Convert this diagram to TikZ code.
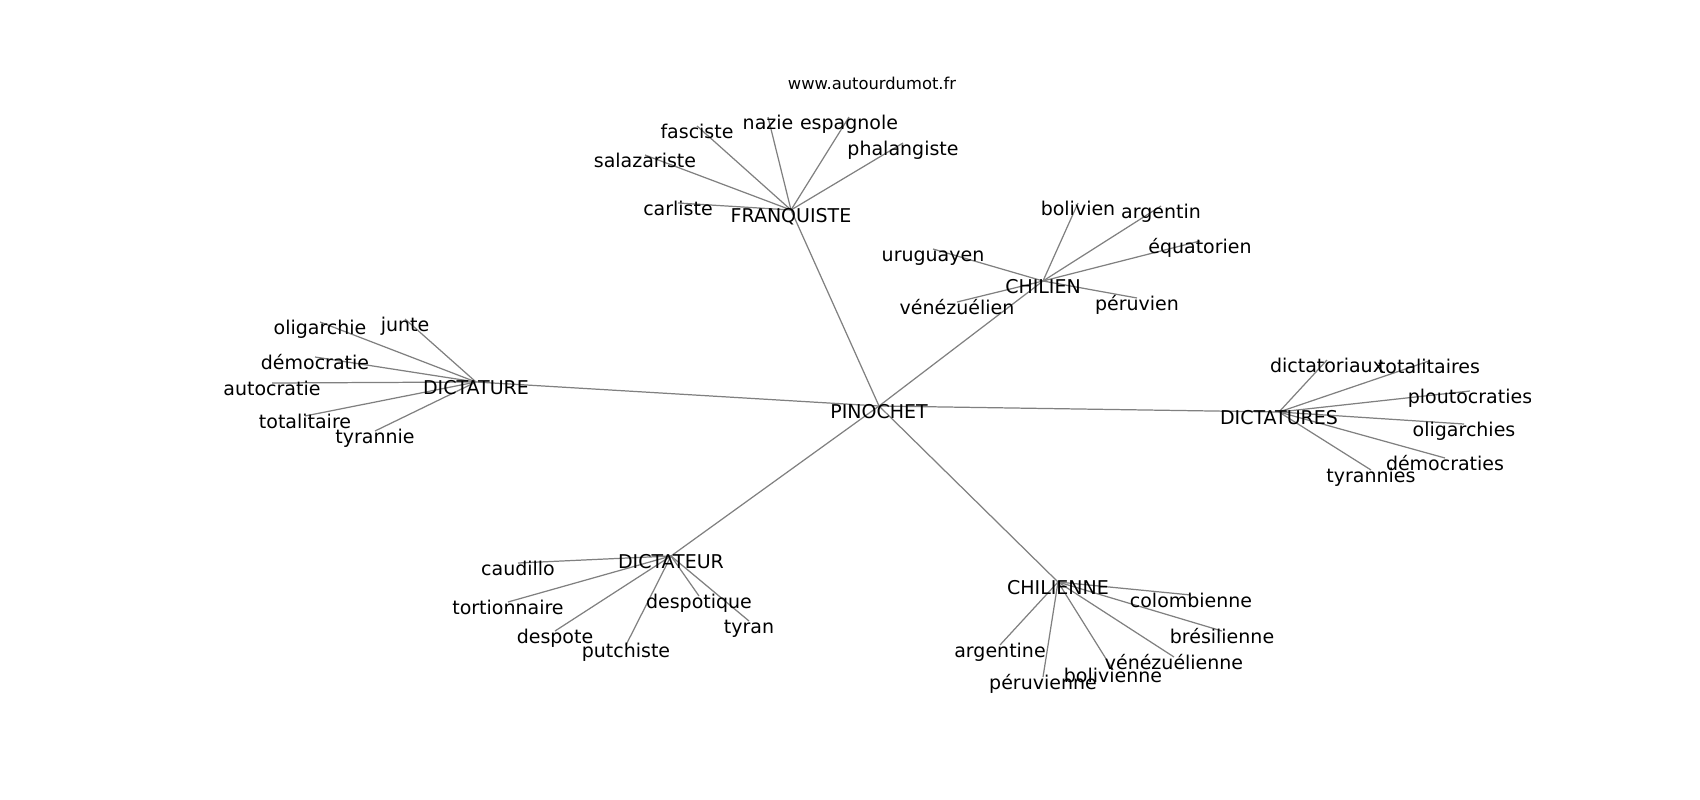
\documentclass[tikz,border=0pt]{standalone}
\usepackage{fontspec}
\setmainfont{DejaVu Sans}
\usetikzlibrary{backgrounds}
\tikzset{
  mot/.style={inner sep=0pt,text height=0.73em,text depth=0pt,font=\fontsize{5.4}{6}\selectfont},
  lien/.style={draw=gray,line width=0.35pt}
}
\begin{document}
\begin{tikzpicture}[x=0.01cm,y=-0.01cm]
\useasboundingbox (0,0) rectangle (1700,800);
\node[mot,font=\fontsize{4.65}{5}\selectfont] (site) at (872,77) {www.autourdumot.fr};
\begin{scope}
\clip (0,0) rectangle (1530,800);
\node[mot] (pinochet) at (879,406) {PINOCHET};
\node[mot] (franquiste) at (791,210) {FRANQUISTE};
\node[mot] (chilien) at (1043,281) {CHILIEN};
\node[mot] (dictature) at (476,382) {DICTATURE};
\node[mot] (dictatures) at (1279,412) {DICTATURES};
\node[mot] (dictateur) at (671,556) {DICTATEUR};
\node[mot] (chilienne) at (1058,582) {CHILIENNE};
\node[mot] (fasciste) at (697,126) {fasciste};
\node[mot] (nazie) at (768,117) {nazie};
\node[mot] (espagnole) at (849,117) {espagnole};
\node[mot] (phalangiste) at (903,143) {phalangiste};
\node[mot] (salazariste) at (645,155) {salazariste};
\node[mot] (carliste) at (678,203) {carliste};
\node[mot] (bolivien) at (1078,203) {bolivien};
\node[mot] (argentin) at (1161,206) {argentin};
\node[mot] (equatorien) at (1200,241) {équatorien};
\node[mot] (uruguayen) at (933,249) {uruguayen};
\node[mot] (venezuelien) at (957,302) {vénézuélien};
\node[mot] (peruvien) at (1137,298) {péruvien};
\node[mot] (oligarchie) at (320,322) {oligarchie};
\node[mot] (junte) at (405,319) {junte};
\node[mot] (democratie) at (315,357) {démocratie};
\node[mot] (autocratie) at (272,383) {autocratie};
\node[mot] (totalitaire) at (305,416) {totalitaire};
\node[mot] (tyrannie) at (375,431) {tyrannie};
\node[mot] (dictatoriaux) at (1327,360) {dictatoriaux};
\node[mot] (totalitaires) at (1429,361) {totalitaires};
\node[mot] (ploutocraties) at (1470,391) {ploutocraties};
\node[mot] (oligarchies) at (1464,424) {oligarchies};
\node[mot] (democraties) at (1445,458) {démocraties};
\node[mot] (tyrannies) at (1371,470) {tyrannies};
\node[mot] (caudillo) at (518,563) {caudillo};
\node[mot] (tortionnaire) at (508,602) {tortionnaire};
\node[mot] (despote) at (555,631) {despote};
\node[mot] (putchiste) at (626,645) {putchiste};
\node[mot] (despotique) at (699,596) {despotique};
\node[mot] (tyran) at (749,621) {tyran};
\node[mot] (colombienne) at (1191,595) {colombienne};
\node[mot] (bresilienne) at (1222,631) {brésilienne};
\node[mot] (venezuelienne) at (1174,657) {vénézuélienne};
\node[mot] (bolivienne) at (1113,670) {bolivienne};
\node[mot] (peruvienne) at (1043,677) {péruvienne};
\node[mot] (argentine) at (1000,645) {argentine};
\begin{scope}[on background layer]
\foreach \b in {franquiste,chilien,dictature,dictatures,dictateur,chilienne}
  \draw[lien] (pinochet.center) -- (\b.center);
\foreach \b in {fasciste,nazie,espagnole,phalangiste,salazariste,carliste}
  \draw[lien] (franquiste.center) -- (\b.center);
\foreach \b in {bolivien,argentin,equatorien,uruguayen,venezuelien,peruvien}
  \draw[lien] (chilien.center) -- (\b.center);
\foreach \b in {oligarchie,junte,democratie,autocratie,totalitaire,tyrannie}
  \draw[lien] (dictature.center) -- (\b.center);
\foreach \b in {dictatoriaux,totalitaires,ploutocraties,oligarchies,democraties,tyrannies}
  \draw[lien] (dictatures.center) -- (\b.center);
\foreach \b in {caudillo,tortionnaire,despote,putchiste,despotique,tyran}
  \draw[lien] (dictateur.center) -- (\b.center);
\foreach \b in {colombienne,bresilienne,venezuelienne,bolivienne,peruvienne,argentine}
  \draw[lien] (chilienne.center) -- (\b.center);
\end{scope}
\end{scope}
\end{tikzpicture}
\end{document}
